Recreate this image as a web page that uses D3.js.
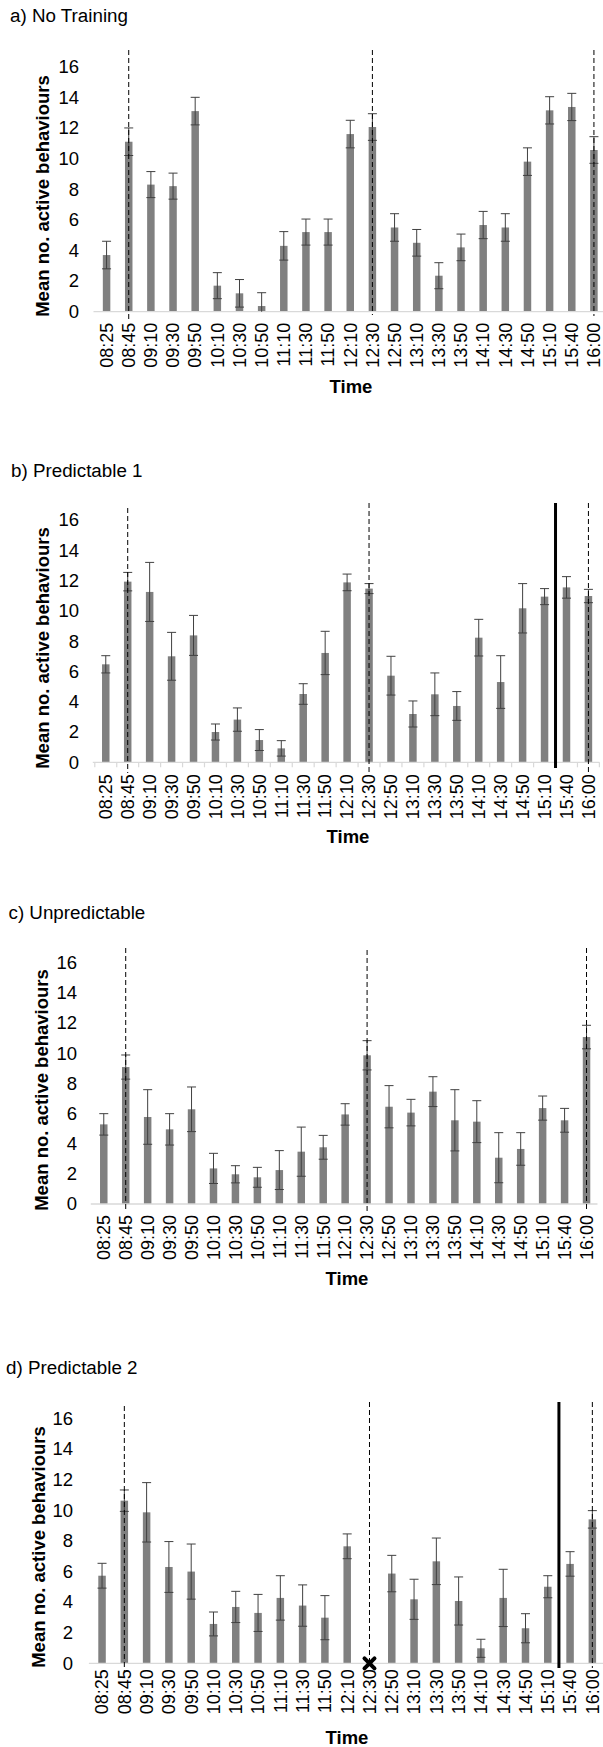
<!DOCTYPE html>
<html lang="en">
<head>
    <meta charset="UTF-8">
    <title>Mean no. active behaviours</title>
    <script src="https://cdn.jsdelivr.net/npm/d3@7"></script>
    <style>
        body { margin: 0; background: #fff; }
        text { font-family: "Liberation Sans", Arial, sans-serif; }
    </style>
</head>
<body>
<svg id="chart" width="603" height="1747"></svg>
<script>
    const times = ["08:25","08:45","09:10","09:30","09:50","10:10","10:30","10:50","11:10","11:30","11:50",
        "12:10","12:30","12:50","13:10","13:30","13:50","14:10","14:30","14:50","15:10","15:40","16:00"];
    const yTicks = [0, 2, 4, 6, 8, 10, 12, 14, 16];

    // a) No Training
    const noTrainingMean = [3.7,11.1,8.3,8.2,13.1,1.7,1.2,0.37,4.3,5.2,5.2,11.6,12.06,5.5,4.5,2.35,4.2,5.66,5.5,9.8,13.15,13.37,10.56];
    const noTrainingSe = [0.9,0.9,0.85,0.85,0.9,0.85,0.9,0.87,0.93,0.85,0.85,0.9,0.87,0.9,0.87,0.85,0.87,0.89,0.9,0.9,0.89,0.89,0.87];
    // b) Predictable 1
    const pred1Mean = [6.47,11.93,11.25,7.0,8.38,2.0,2.82,1.47,0.92,4.51,7.22,11.88,11.47,5.72,3.19,4.49,3.72,8.23,5.3,10.17,10.94,11.55,10.98];
    const pred1Se = [0.57,0.61,1.95,1.58,1.32,0.53,0.77,0.69,0.51,0.68,1.43,0.55,0.33,1.28,0.86,1.41,0.95,1.21,1.74,1.63,0.53,0.71,0.44];
    // c) Unpredictable
    const unpredMean = [5.28,9.08,5.77,4.95,6.28,2.36,1.97,1.77,2.25,3.47,3.76,5.94,9.86,6.45,6.06,7.45,5.55,5.46,3.07,3.65,6.36,5.55,11.07];
    const unpredSe = [0.71,0.8,1.81,1.04,1.48,1.0,0.57,0.66,1.29,1.63,0.79,0.71,0.97,1.4,0.88,0.99,2.03,1.39,1.66,1.08,0.8,0.79,0.78];
    // d) Predictable 2 (12:30 missing)
    const pred2Mean = [5.72,10.62,9.86,6.29,5.99,2.57,3.68,3.29,4.27,3.77,2.98,7.64,null,5.86,4.18,6.66,4.07,0.98,4.27,2.29,5.0,6.49,9.4];
    const pred2Se = [0.81,0.7,1.94,1.66,1.8,0.78,1.02,1.21,1.45,1.35,1.44,0.81,null,1.19,1.31,1.52,1.57,0.59,1.87,0.95,0.72,0.8,0.57];

    const feedTimes = ["08:45", "12:30", "16:00"];

    const panels = [
        {title: "a) No Training", mean: noTrainingMean, se: noTrainingSe,
            x0: 95.5, x1: 605, y0: 311.7, y1: 66.7, titleX: 10, titleY: 22, timeX: 351, timeY: 393,
            yLabX: 43, yLabY: 196, tickRight: 79, labGap: 11, dashTop: [50, 50, 50], dashBot: [320, 315, 316],
            solid: null, ticks: false},
        {title: "b) Predictable 1", mean: pred1Mean, se: pred1Se,
            x0: 94.8, x1: 599.4, y0: 762.3, y1: 520, titleX: 11, titleY: 477, timeX: 348, timeY: 843,
            yLabX: 43, yLabY: 648, tickRight: 79, labGap: 12, dashTop: [508, 503, 503], dashBot: [773, 772, 775],
            solid: {top: 503, bot: 768}, ticks: true},
        {title: "c) Unpredictable", mean: unpredMean, se: unpredSe,
            x0: 92.8, x1: 597.5, y0: 1204, y1: 962.7, titleX: 8.5, titleY: 919, timeX: 347, timeY: 1285,
            yLabX: 41.5, yLabY: 1090, tickRight: 77, labGap: 11, dashTop: [948, 950, 948], dashBot: [1212, 1211, 1211],
            solid: null, ticks: false},
        {title: "d) Predictable 2", mean: pred2Mean, se: pred2Se,
            x0: 90.9, x1: 603.5, y0: 1663.3, y1: 1418.3, titleX: 6, titleY: 1374, timeX: 347, timeY: 1744,
            yLabX: 38.5, yLabY: 1547, tickRight: 73, labGap: 6, dashTop: [1406, 1402, 1402], dashBot: [1672, 1663, 1668],
            solid: {top: 1402, bot: 1668}, ticks: false, missing: "12:30"}
    ];

    const svg = d3.select("#chart");

    panels.forEach(p => {
        const g = svg.append("g");
        const x = d3.scaleBand().domain(times).range([p.x0, p.x1]).padding(0);
        const y = d3.scaleLinear().domain([0, 16]).range([p.y0, p.y1]);
        const cx = t => x(t) + x.bandwidth() / 2;

        g.append("text").attr("x", p.titleX).attr("y", p.titleY)
            .attr("font-size", 18.8).attr("fill", "#000").text(p.title);

        // y axis (labels only)
        const yAxis = g.append("g").attr("transform", `translate(${p.tickRight},0)`)
            .call(d3.axisLeft(y).tickValues(yTicks).tickSize(0).tickPadding(0));
        yAxis.select(".domain").remove();
        yAxis.selectAll("text").attr("font-size", 18.5).attr("fill", "#000")
            .attr("font-family", "Liberation Sans, Arial, sans-serif");

        g.append("text")
            .attr("transform", `translate(${p.yLabX},${p.yLabY}) rotate(-90)`)
            .attr("text-anchor", "middle").attr("dy", "0.35em")
            .attr("font-size", 18.5).attr("font-weight", "bold").attr("fill", "#000")
            .text("Mean no. active behaviours");

        // bars
        const rows = times.map((t, i) => ({t, m: p.mean[i], s: p.se[i]})).filter(d => d.m !== null);
        const bw = 7.5;
        g.selectAll("rect.bar").data(rows).join("rect")
            .attr("x", d => cx(d.t) - bw / 2).attr("width", bw)
            .attr("y", d => y(d.m)).attr("height", d => p.y0 - y(d.m))
            .attr("fill", "#808080");

        // baseline
        g.append("line").attr("x1", p.x0 - 2).attr("x2", Math.min(p.x1, 603))
            .attr("y1", p.y0).attr("y2", p.y0)
            .attr("stroke", "#d9d9d9").attr("stroke-width", 1.3);

        if (p.ticks) {
            g.selectAll("line.tk").data(times.concat(["end"])).join("line")
                .attr("x1", (t, i) => p.x0 + i * x.step()).attr("x2", (t, i) => p.x0 + i * x.step())
                .attr("y1", p.y0).attr("y2", p.y0 + 5)
                .attr("stroke", "#d9d9d9").attr("stroke-width", 1.2);
        }

        // error bars
        const eb = g.selectAll("g.eb").data(rows).join("g").attr("stroke", "#404040").attr("stroke-width", 1);
        eb.append("line").attr("x1", d => cx(d.t)).attr("x2", d => cx(d.t))
            .attr("y1", d => y(Math.max(0, d.m - d.s))).attr("y2", d => y(d.m + d.s));
        eb.append("line").attr("x1", d => cx(d.t) - 4.5).attr("x2", d => cx(d.t) + 4.5)
            .attr("y1", d => y(d.m + d.s)).attr("y2", d => y(d.m + d.s));
        eb.filter(d => d.m - d.s > 0).append("line")
            .attr("x1", d => cx(d.t) - 4.5).attr("x2", d => cx(d.t) + 4.5)
            .attr("y1", d => y(d.m - d.s)).attr("y2", d => y(d.m - d.s));

        // x labels
        const xAxis = g.append("g").attr("transform", `translate(0,${p.y0})`)
            .call(d3.axisBottom(x).tickSize(0).tickPadding(0));
        xAxis.select(".domain").remove();
        xAxis.selectAll("text")
            .attr("font-size", 18).attr("fill", "#000")
            .attr("font-family", "Liberation Sans, Arial, sans-serif")
            .attr("text-anchor", "end").attr("dy", "0.35em")
            .attr("transform", `translate(0,${p.labGap}) rotate(-90)`)
            .attr("x", 0).attr("y", 0);

        g.append("text").attr("x", p.timeX).attr("y", p.timeY).attr("text-anchor", "middle")
            .attr("font-size", 18.5).attr("font-weight", "bold").attr("fill", "#000").text("Time");

        // feeding time markers
        g.selectAll("line.feed").data(feedTimes).join("line")
            .attr("x1", t => cx(t)).attr("x2", t => cx(t))
            .attr("y1", (t, i) => p.dashTop[i]).attr("y2", (t, i) => p.dashBot[i])
            .attr("stroke", "#000").attr("stroke-width", 1).attr("stroke-dasharray", "5,3");

        if (p.solid) {
            const sx = x("15:40");
            g.append("line").attr("x1", sx).attr("x2", sx).attr("y1", p.solid.top).attr("y2", p.solid.bot)
                .attr("stroke", "#000").attr("stroke-width", 3);
        }

        if (p.missing) {
            const mx = cx(p.missing), my = p.y0, r = 5;
            g.append("path")
                .attr("d", `M${mx - r},${my - r}L${mx + r},${my + r}M${mx + r},${my - r}L${mx - r},${my + r}`)
                .attr("stroke", "#000").attr("stroke-width", 4).attr("stroke-linecap", "round");
        }
    });
</script>
</body>
</html>
